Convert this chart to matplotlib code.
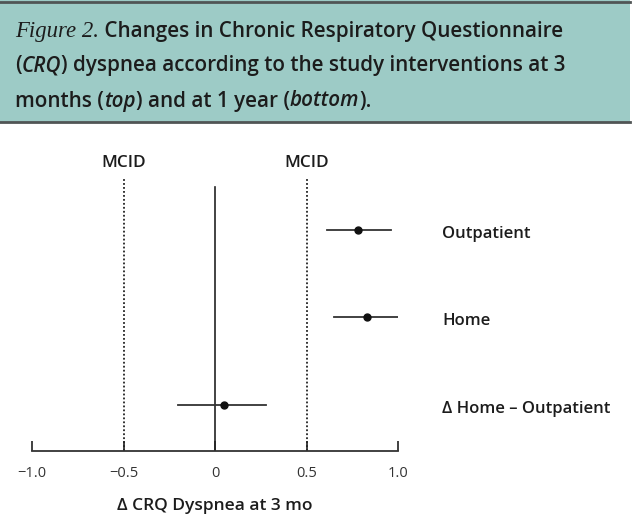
import matplotlib
matplotlib.use("Agg")
import matplotlib.pyplot as plt
from matplotlib.patches import Rectangle
from matplotlib.transforms import blended_transform_factory, offset_copy

# ---- data ----
groups = ["Outpatient", "Home", "\u0394 Home \u2013 Outpatient"]
means = [0.78, 0.83, 0.05]
lower = [0.61, 0.65, -0.20]
upper = [0.96, 1.00, 0.28]
xticks = [-1.0, -0.5, 0.0, 0.5, 1.0]
xticklabels = ["\u22121.0", "\u22120.5", "0", "0.5", "1.0"]
mcid = [-0.5, 0.5]
xlabel = "\u0394 CRQ Dyspnea at 3 mo"

W, H = 634, 532
fig = plt.figure(figsize=(W / 100, H / 100), dpi=100)
fig.patch.set_facecolor("white")

SANS = "Open Sans"
TXT = "#1c1c1c"

# ---- header band ----
top_frac = 1 - 122 / H
fig.patches.append(Rectangle((0, top_frac), 630 / W, 1 - top_frac, transform=fig.transFigure,
                             facecolor="#9dcbc6", edgecolor="none", zorder=0))
for yy in (1 - 1.5 / H, top_frac):
    fig.add_artist(plt.Line2D([0, 630 / W], [yy, yy], transform=fig.transFigure,
                              color="#505555", lw=2.0))

lines = [
    [("Figure 2.", "serif_it"), (" Changes in Chronic Respiratory Questionnaire", "sans")],
    [("(", "sans"), ("CRQ", "sans_it"), (") dyspnea according to the study interventions at 3", "sans")],
    [("months (", "sans"), ("top", "sans_it"), (") and at 1 year (", "sans"), ("bottom", "sans_it"), (").", "sans")],
]
line_y = [31, 66, 101]
fs_head = 14.9
renderer = fig.canvas.get_renderer()
for pieces, ly in zip(lines, line_y):
    x = 15
    for s, style in pieces:
        kw = dict(fontsize=fs_head, color=TXT, va="center", ha="left")
        if style == "serif_it":
            kw.update(family="Liberation Serif", style="italic", fontsize=fs_head + 1.5)
        elif style == "sans_it":
            kw.update(family=SANS, style="italic", weight="semibold")
        else:
            kw.update(family=SANS, weight="semibold")
        t = fig.text(x / W, 1 - ly / H, s, **kw)
        bb = t.get_window_extent(renderer)
        x += bb.width

# ---- axes ----
ax_left, ax_right = 32, 398
ax_bottom, ax_top = 451, 178
ax = fig.add_axes([ax_left / W, 1 - ax_bottom / H, (ax_right - ax_left) / W, (ax_bottom - ax_top) / H])
ax.set_xlim(-1.0, 1.0)
ax.set_ylim(0.474, 3.594)
ax.patch.set_alpha(0)
for sp in ("left", "right", "top"):
    ax.spines[sp].set_visible(False)
ax.spines["bottom"].set_color("#333333")
ax.spines["bottom"].set_linewidth(1.3)
ax.set_yticks([])
ax.set_xticks(xticks)
ax.set_xticklabels(xticklabels, family=SANS, fontsize=10.5, color="#333333")
ax.tick_params(axis="x", direction="in", length=7.5, width=1.3, color="#333333", pad=11)

# reference lines
for m in mcid:
    ax.axvline(m, color="#222222", lw=1.3, ls=(0, (1, 1.2)))
ax.plot([0, 0], [0.474, 3.49], color="#222222", lw=1.2)

label_tr = offset_copy(ax.transData, fig=fig, x=0, y=-4, units="dots")
ypos = [3, 2, 1]
for y, m, lo, hi, g in zip(ypos, means, lower, upper, groups):
    ax.plot([lo, hi], [y, y], color="#333333", lw=1.3)
    ax.plot(m, y, "o", color="#111111", ms=5)
    ax.text(1.24, y, g, family=SANS, weight="semibold", fontsize=12, color=TXT,
            ha="left", va="center", clip_on=False, transform=label_tr)

tr = blended_transform_factory(ax.transData, fig.transFigure)
for m in mcid:
    ax.text(m, 1 - 163 / H, "MCID", transform=tr, family=SANS, weight="semibold",
            fontsize=12.3, color=TXT, ha="center", va="center")

ax.set_xlabel(xlabel, family=SANS, weight="semibold", fontsize=12.5, color=TXT, labelpad=12)

fig.savefig("out.png", dpi=100)
